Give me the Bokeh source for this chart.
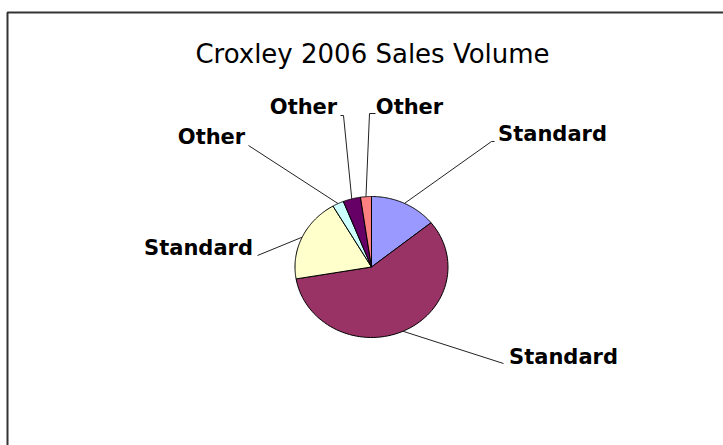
import numpy as np
from bokeh.plotting import figure
from bokeh.models import Range1d, ColumnDataSource
from bokeh.core.properties import value
from bokeh.embed import file_html
from bokeh.resources import INLINE

# ---- data ----
title = "Croxley 2006 Sales Volume"
categories = ["Standard", "Standard", "Standard", "Other", "Other", "Other"]
volumes = [14.2, 58.1, 19.3, 2.4, 3.7, 2.3]
colors = ["#9999FF", "#993366", "#FFFFCC", "#CCFFFF", "#660066", "#FF8080"]

# ---- layout (pixel coordinates measured from top-left) ----
W, H = 723, 445
cx, cy = 371, 266.5          # pie centre
rx, ry = 76.5, 70.5          # pie radii
label_pos = [(552, 133), (563, 356), (198, 247), (211, 136), (303, 106), (409, 106)]
leader_pts = [[(491, 141), (494, 141)],
              [(503, 363)],
              [(257, 255)],
              [(248, 145)],
              [(343, 115), (340, 115)],
              [(369, 113), (375, 113)]]


def Y(py):
    return H - py


p = figure(width=W, height=H, output_backend="svg", toolbar_location=None,
           x_range=Range1d(0, W), y_range=Range1d(0, H), min_border=0)
p.axis.visible = False
p.grid.visible = False
p.outline_line_color = None
p.background_fill_color = "white"
p.border_fill_color = "white"

# outer frame of the chart area
p.quad(left=[7], right=[W + 20], top=[Y(12)], bottom=[Y(H + 20)],
       fill_color=None, line_color="#333333", line_width=2)

# slices
total = float(sum(volumes))
angles = np.array(volumes) / total * 2 * np.pi
start = np.pi / 2 - np.concatenate([[0], np.cumsum(angles)[:-1]])
end = start - angles
xs, ys = [], []
for a0, a1 in zip(start, end):
    t = np.linspace(a0, a1, 80)
    xs.append([cx] + list(cx + rx * np.cos(t)) + [cx])
    ys.append([Y(cy)] + list(Y(cy) + ry * np.sin(t)) + [Y(cy)])
p.patches(xs=xs, ys=ys, fill_color=colors, line_color="black", line_width=1)

# leader lines from slice mid-angle edge to label
lx, ly = [], []
mid = (start + end) / 2
for m, pts in zip(mid, leader_pts):
    x0 = cx + rx * np.cos(m)
    y0 = Y(cy) + ry * np.sin(m)
    lx.append([x0] + [q[0] for q in pts])
    ly.append([y0] + [Y(q[1]) for q in pts])
p.multi_line(xs=lx, ys=ly, line_color="#222222", line_width=1)

# labels
src = ColumnDataSource(dict(x=[q[0] for q in label_pos], y=[Y(q[1]) for q in label_pos],
                            t=categories))
p.text(x="x", y="y", text="t", source=src, text_align="center",
       text_baseline="alphabetic", text_font=value("DejaVu Sans"),
       text_font_style="bold", text_font_size="21px", text_color="black")

# title
p.text(x=[372], y=[Y(53)], text=[title], text_align="center",
       text_baseline="alphabetic", text_font=value("DejaVu Sans"),
       text_font_size="26px", text_color="black")

open("out.html", "w").write(file_html(p, INLINE))
